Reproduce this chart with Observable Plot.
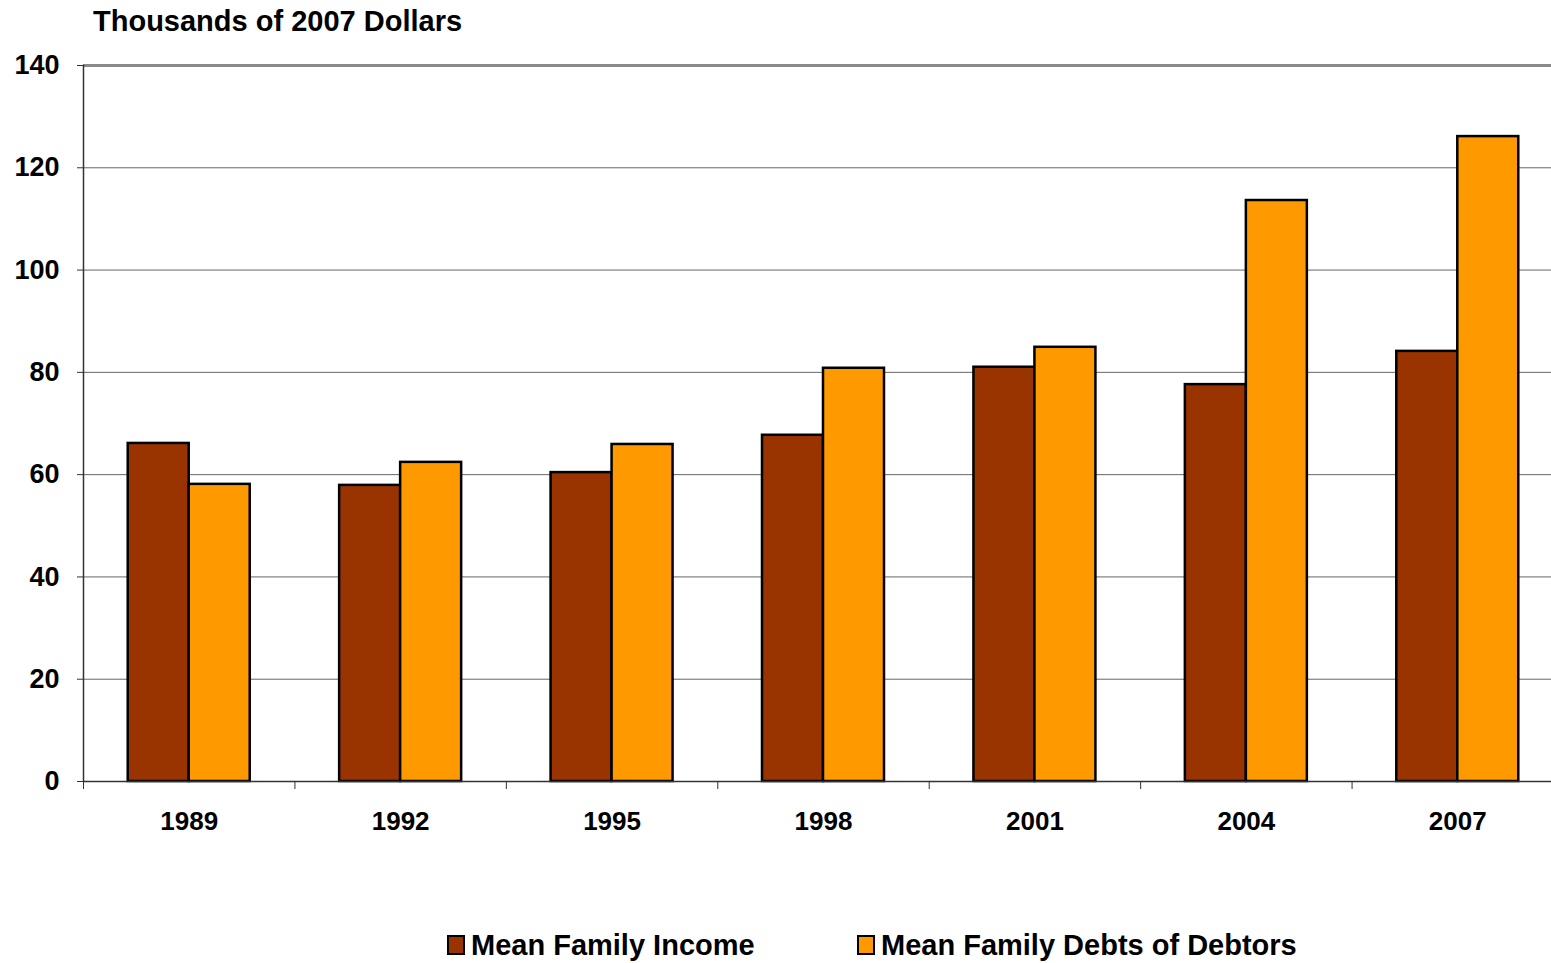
<!DOCTYPE html>
<html>
<head>
<meta charset="utf-8">
<script src="https://cdn.jsdelivr.net/npm/d3@7"></script>
<script src="https://cdn.jsdelivr.net/npm/@observablehq/plot@0.6"></script>
<style>
  html, body { margin: 0; padding: 0; background: #fff; }
  body { width: 1551px; height: 963px; position: relative; overflow: hidden; font-family: "Liberation Sans", Arial, sans-serif; font-weight: bold; color: #000; }
  #title { position: absolute; left: 93px; top: 4px; font-size: 29px; line-height: 34px; white-space: nowrap; }
  #chart { position: absolute; left: 0; top: 50px; }
  #legend { position: absolute; top: 926px; left: 0; width: 1551px; height: 40px; }
  .item { position: absolute; top: 0; display: flex; align-items: center; font-size: 29px; line-height: 38px; white-space: nowrap; }
  .sw { width: 14px; height: 16px; border: 2px solid #000; margin-right: 6px; }
</style>
</head>
<body>
<div id="title">Thousands of 2007 Dollars</div>
<div id="chart"></div>
<div id="legend"></div>
<script>
const years = ["1989", "1992", "1995", "1998", "2001", "2004", "2007"];
const income = [66.1, 57.9, 60.4, 67.7, 81.0, 77.6, 84.1];
const debts = [58.1, 62.4, 65.9, 80.8, 84.9, 113.6, 126.1];
const seriesNames = ["Mean Family Income", "Mean Family Debts of Debtors"];
const seriesColors = ["#993300", "#FF9900"];
const yTicks = [0, 20, 40, 60, 80, 100, 120, 140];

const incomeData = years.map((y, i) => ({year: y, value: income[i], series: seriesNames[0]}));
const debtData = years.map((y, i) => ({year: y, value: debts[i], series: seriesNames[1]}));

const W = 1551, H = 830, mL = 83, mR = -12, mT = 15, mB = 99;
const bw = (W - mR - mL) / years.length;
const barW = bw * 0.2885;
const gapOuter = (bw - 2 * barW) / 2;

const plot = Plot.plot({
  width: W,
  height: H,
  marginLeft: mL,
  marginRight: mR,
  marginTop: mT,
  marginBottom: mB,
  style: {fontFamily: "'Liberation Sans', Arial, sans-serif", fontWeight: "bold", fontSize: "26px", color: "#000", background: "#fff", overflow: "hidden"},
  x: {domain: years, padding: 0, round: false, axis: null},
  y: {domain: [0, 140], axis: null},
  color: {domain: seriesNames, range: seriesColors},
  marks: [
    Plot.gridY(yTicks.slice(1, -1), {stroke: "#666", strokeOpacity: 1, strokeWidth: 1}),
    Plot.ruleY([140], {stroke: "#8a8a8a", strokeWidth: 3}),
    Plot.barY(incomeData, {x: "year", y: "value", fill: "series", stroke: "#000", strokeWidth: 2.5,
      insetLeft: gapOuter, insetRight: bw - gapOuter - barW}),
    Plot.barY(debtData, {x: "year", y: "value", fill: "series", stroke: "#000", strokeWidth: 2.5,
      insetLeft: gapOuter + barW, insetRight: gapOuter}),
    Plot.ruleY([0], {stroke: "#333", strokeWidth: 1.5}),
    Plot.axisY({ticks: yTicks, tickSize: 6, tickPadding: 18, label: null, fontSize: 27, tickFormat: d => String(d), stroke: "#333"}),
    Plot.frame({anchor: "left", stroke: "#333", strokeWidth: 1.5}),
    Plot.axisX({ticks: years, tickSize: 8, tickFormat: () => "", label: null, dx: -bw / 2, stroke: "#333"}),
    Plot.axisX({ticks: years, tickSize: 0, tickPadding: 30, label: null})
  ]
});
document.getElementById("chart").appendChild(plot);

const legend = document.getElementById("legend");
const legendX = [447, 857];
seriesNames.forEach((name, i) => {
  const item = document.createElement("div");
  item.className = "item";
  item.style.left = legendX[i] + "px";
  const sw = document.createElement("div");
  sw.className = "sw";
  sw.style.background = seriesColors[i];
  const t = document.createElement("span");
  t.textContent = name;
  item.appendChild(sw);
  item.appendChild(t);
  legend.appendChild(item);
});
</script>
</body>
</html>
